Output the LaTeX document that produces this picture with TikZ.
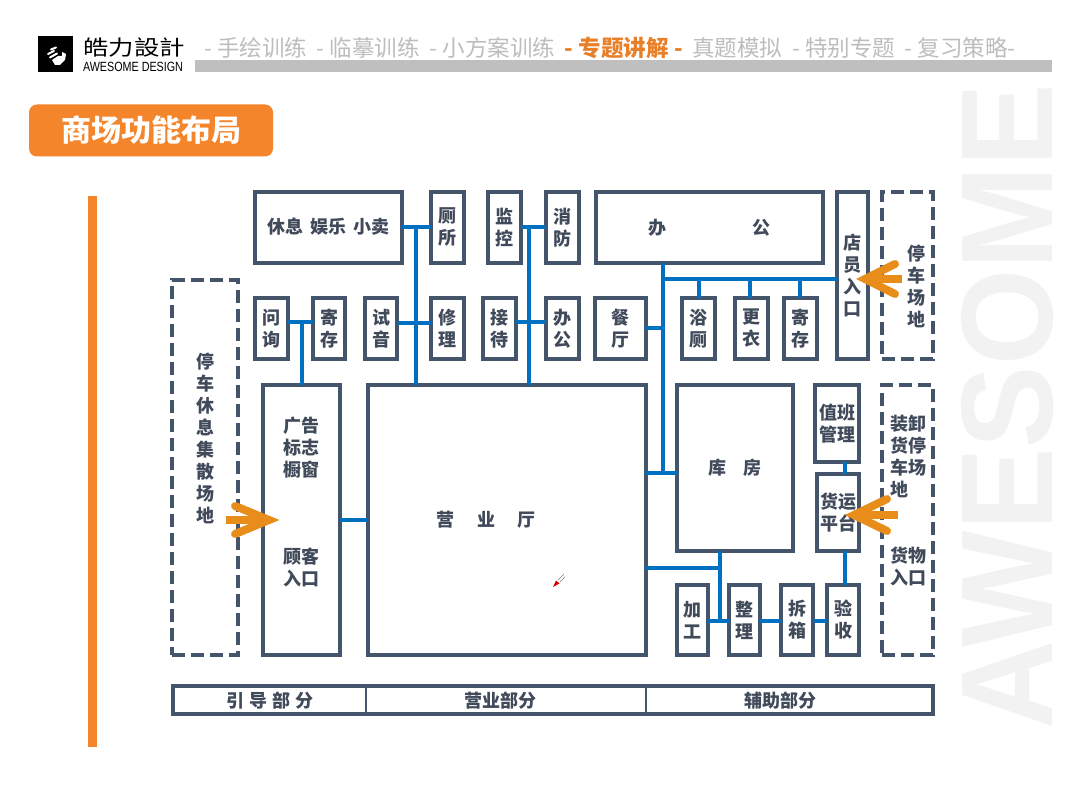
\documentclass[tikz,border=0pt]{standalone}
\usepackage{fontspec}
\usepackage{graphicx}
\setmainfont{Noto Sans CJK SC}
\newfontfamily\latinf{Liberation Sans}
\definecolor{slate}{HTML}{44546A}
\definecolor{inkc}{HTML}{404A5A}
\definecolor{linkblue}{HTML}{0070C0}
\definecolor{tagorange}{HTML}{F5852B}
\definecolor{arroworange}{HTML}{E88D1A}
\definecolor{navgrey}{HTML}{BDBDBD}
\definecolor{navorange}{HTML}{E8802A}
\definecolor{barGrey}{HTML}{BFBFBF}
\definecolor{markc}{HTML}{F2F2F2}
\tikzset{
  roomtext/.style={text=inkc,font=\bfseries\fontsize{13.5pt}{16.5pt}\selectfont,align=center,inner sep=0pt,outer sep=0pt},
  room/.style={roomtext,draw=slate,line width=3pt,rectangle},
  siteroom/.style={room,dash pattern=on 9.75pt off 4.5pt},
  conn/.style={draw=linkblue,line width=3pt},
  entry/.style={draw=arroworange,line width=6pt,line cap=round,line join=miter},
  stem/.style={draw=arroworange,line width=5.5pt},
}
\newcommand{\bx}[7][room]{%
  \pgfmathsetmacro{\cxv}{(#3+#5)/2}%
  \pgfmathsetmacro{\cyv}{(#4+#6)/2}%
  \pgfmathsetmacro{\wv}{(#5-#3)*0.75}%
  \pgfmathsetmacro{\hv}{(#6-#4)*0.75}%
  \node[#1,minimum width=\wv pt,minimum height=\hv pt] (#2) at (\cxv,\cyv) {#7};}
\begin{document}
\begin{tikzpicture}[x=0.75pt,y=-0.75pt]
\useasboundingbox (0,0) rectangle (1080,812);
\fill[white] (0,0) rectangle (1080,812);

% watermark
\node[rotate=90,text=markc,inner sep=0pt] (mark) at (1007.5,407)
  {\resizebox{483.75pt}{68.25pt}{\latinf\bfseries AWESOME}};

% header
\fill[black] (38,36) rectangle (73,72);
\fill[white] (52,60) -- (58,56) -- (62,56) -- (62,52) -- (66,54) -- (65,60) -- (60,65) -- (55,65) -- cycle;
\draw[white,line width=1.5pt,line cap=round] (48,54) -- (54,51) (50,57.5) -- (57,53.5) (51,49.5) -- (56,47.5) ;
\node[inner sep=0pt,text=black] (logocn) at (134,48)
  {\scalebox{1.03}[0.85]{\fontsize{18.5pt}{20pt}\selectfont 皓力設計}};
\node[inner sep=0pt,text=black] (logoen) at (133,67)
  {\resizebox{75pt}{7pt}{\latinf AWESOME DESIGN}};
\fill[barGrey] (195,60.5) rectangle (1052,72.5);
\node[anchor=west,inner sep=0pt,text=navgrey,font=\fontsize{16.9pt}{18pt}\selectfont] (nav) at (204,47.5)
  {- 手绘训练\hspace{3.5pt} - 临摹训练\hspace{3.5pt} - 小方案训练\hspace{3.5pt} {\color{navorange}\bfseries - 专题讲解 -}\hspace{3.5pt} 真题模拟\hspace{3.5pt} - 特别专题\hspace{3.5pt} - 复习策略-};

% title
\node[fill=tagorange,rounded corners=6pt,minimum width=183pt,minimum height=39pt,inner sep=0pt,
  text=white,font=\bfseries\fontsize{22.5pt}{24pt}\selectfont] (title) at (151,130.5) {商场功能布局};

% side bar
\fill[tagorange] (88,196) rectangle (97,747);

% rooms, top row
\bx{leisure}{255}{192}{402}{263}{\raisebox{3pt}{休息\hspace{5pt}娱乐\hspace{5pt}小卖}}
\bx{wc}{431}{192}{464}{263}{厕\\所}
\bx{monitor}{488}{192}{521}{263}{监\\控}
\bx{fire}{546}{192}{579}{263}{消\\防}
\bx{office}{596}{192}{823}{263}{办\hspace{64pt}公}
\bx{staffdoor}{837}{192}{868}{359}{店\\员\\入\\口}
% rooms, second row
\bx{ask}{255}{298}{288}{359}{问\\询}
\bx{store}{313}{298}{345}{359}{寄\\存}
\bx{audio}{365}{298}{397}{359}{试\\音}
\bx{repair}{431}{298}{464}{359}{修\\理}
\bx{recep}{483}{298}{516}{359}{接\\待}
\bx{office2}{546}{298}{579}{359}{办\\公}
\bx{dining}{595}{298}{646}{359}{餐\\厅}
\bx{bath}{682}{298}{715}{359}{浴\\厕}
\bx{change}{735}{298}{768}{359}{更\\衣}
\bx{locker}{784}{298}{817}{359}{寄\\存}
% main rooms
\bx{guide}{263}{385}{340}{655}{}
\bx{hall}{368}{385}{646}{655}{\raisebox{2pt}{营\hspace{17pt}业\hspace{17pt}厅}\hspace{31pt}}
\bx{wh}{677}{385}{793}{551}{\raisebox{2pt}{库\hspace{12.5pt}房}}
\bx{duty}{815}{385}{859}{462}{值班\\管理}
\bx{cargo}{817}{474}{859}{551}{货运\\平台}
\bx{proc}{677}{585}{708}{655}{加\\工}
\bx{sort}{729}{585}{760}{655}{整\\理}
\bx{unpack}{781}{585}{813}{655}{拆\\箱}
\bx{check}{827}{585}{859}{655}{验\\收}
% site areas
\bx[siteroom]{siteleft}{172}{280}{238}{655}{}
\bx[siteroom]{sitetop}{882}{192}{933}{359}{}
\bx[siteroom]{sitelow}{882}{385}{933}{655}{}
% offset labels
\node[roomtext] (lblguidea) at (301,448) {广告\\标志\\橱窗};
\node[roomtext] (lblguideb) at (301,567) {顾客\\入口};
\node[roomtext] (lblleft) at (205,438) {停\\车\\休\\息\\集\\散\\场\\地};
\node[roomtext] (lbltop) at (916,286) {停\\车\\场\\地};
\node[roomtext,anchor=center,align=left] (lbllowa) at (908,456) {装卸\\货停\\车场\\地};
\node[roomtext] (lbllowb) at (908,566) {货物\\入口};

% bottom bar
\bx{zones}{173}{685.5}{933}{714}{}
\draw[slate,line width=1.5pt] (366,685.5) coordinate (zonea) -- (zonea |- zones.south);
\draw[slate,line width=1.5pt] (646,685.5) coordinate (zoneb) -- (zoneb |- zones.south);
\node[roomtext] (lblzonea) at (270,701) {引\hspace{4pt}导\hspace{4pt}部\hspace{4pt}分};
\node[roomtext] (lblzoneb) at (500,701) {营业部分};
\node[roomtext] (lblzonec) at (780,701) {辅助部分};

% connectors
\coordinate (ja) at (416,227);
\coordinate (jb) at (529,227);
\coordinate (jc) at (302,322);
\coordinate (jd) at (416,323);
\coordinate (je) at (529,322);
\coordinate (jf) at (663,279);
\coordinate (jg) at (663,473);
\coordinate (jh) at (720,568);
\coordinate (ji) at (720,621);
\draw[conn] (leisure.east |- ja) -- (wc.west |- ja);
\draw[conn] (ja) -- (ja |- hall.north);
\draw[conn] (monitor.east |- jb) -- (fire.west |- jb);
\draw[conn] (jb) -- (jb |- hall.north);
\draw[conn] (ask.east |- jc) -- (store.west |- jc);
\draw[conn] (jc) -- (jc |- guide.north);
\draw[conn] (audio.east |- jd) -- (repair.west |- jd);
\draw[conn] (recep.east |- je) -- (office2.west |- je);
\draw[conn] (jf |- office.south) -- (jg);
\draw[conn] (jf) -- (staffdoor.west |- jf);
\draw[conn] (bath.north |- jf) -- (bath.north);
\draw[conn] (750,279) coordinate (jj) -- (jj |- change.north);
\draw[conn] (800,279) coordinate (jk) -- (jk |- locker.north);
\draw[conn] (dining.east) -- (dining.east -| jf);
\draw[conn] (hall.east |- jg) -- (wh.west |- jg);
\draw[conn] (hall.east |- jh) -- (jh);
\draw[conn] (jh |- wh.south) -- (ji);
\draw[conn] (proc.east |- ji) -- (sort.west |- ji);
\draw[conn] (sort.east |- ji) -- (unpack.west |- ji);
\draw[conn] (unpack.east |- ji) -- (check.west |- ji);
\draw[conn] (845,462) coordinate (jl) -- (jl |- cargo.north);
\draw[conn] (jl |- cargo.south) -- (jl |- check.north);
\draw[conn] (guide.east |- 0,520) -- (hall.west |- 0,520);

% entrance arrows
\coordinate (tipa) at (269,520);
\draw[stem] (226,520) -- (tipa);
\draw[entry] (235,506) -- (tipa) -- (235,534);
\coordinate (tipb) at (865,279);
\draw[stem] (902,279) -- (tipb);
\draw[entry] (895,264) -- (tipb) -- (895,294);
\coordinate (tipc) at (854,515);
\draw[stem] (898,515) -- (tipc);
\draw[entry] (887,499) -- (tipc) -- (887,531);

% pen cursor
\draw[gray,line width=0.5pt] (558,580) -- (564,574) (560,582) -- (565,577);
\fill[red!85!black] (553,587) -- (556,580.5) -- (559.5,583.5) -- cycle;
\end{tikzpicture}
\end{document}
